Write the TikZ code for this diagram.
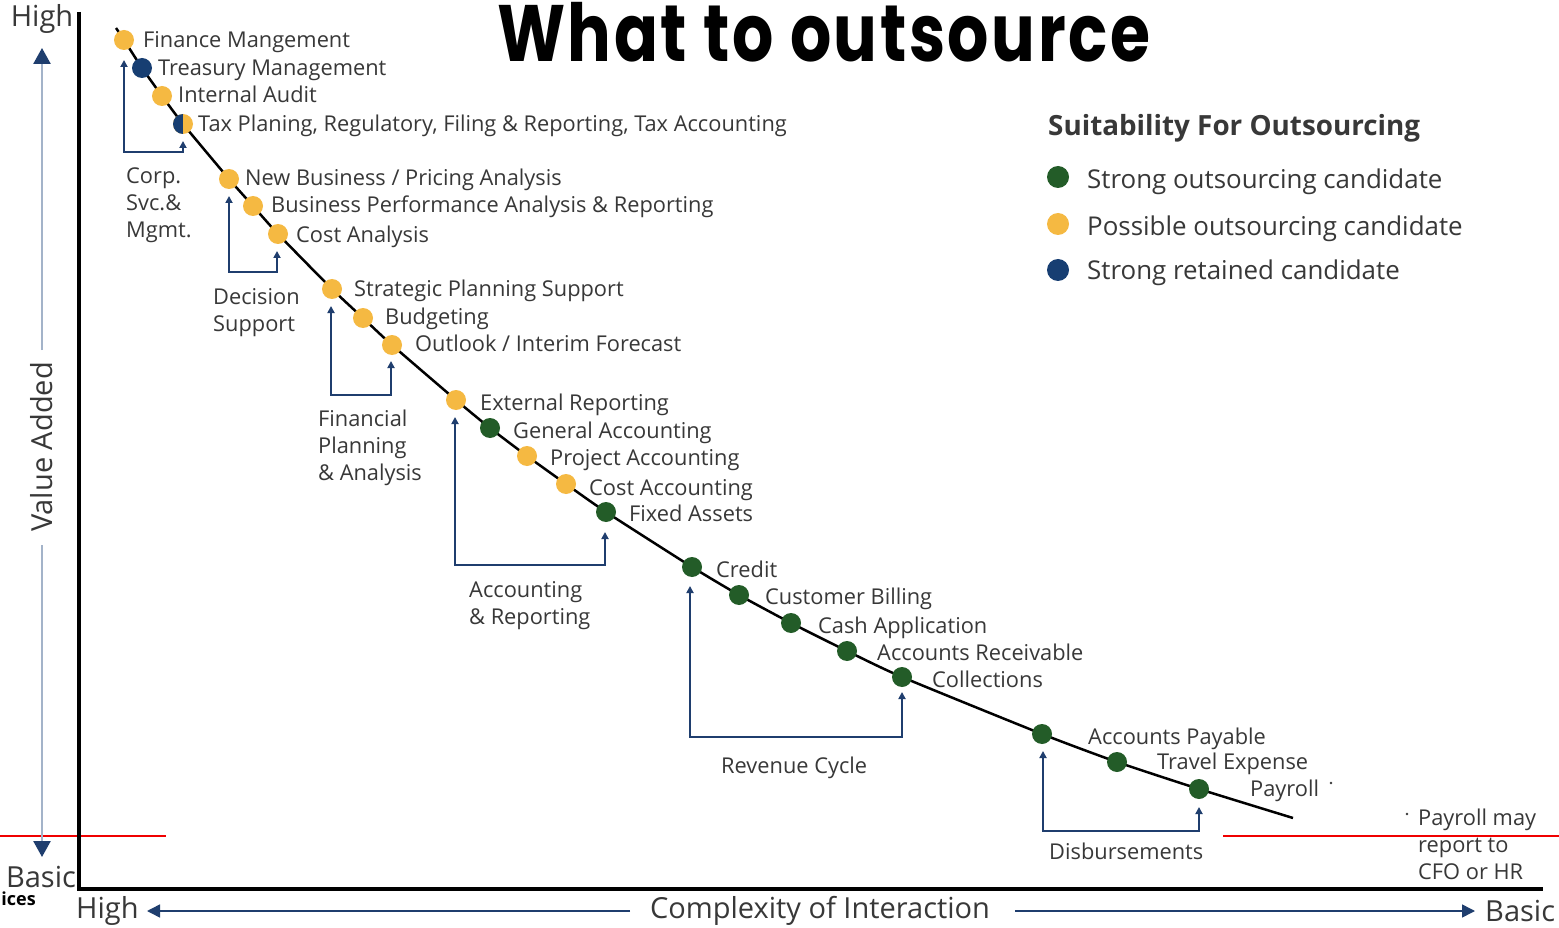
\documentclass[tikz,border=0pt]{standalone}
\usepackage{fontspec}
\usepackage{graphicx}
\setmainfont{Open Sans}
\newfontfamily\titlefont{Poppins}[LetterSpace=4]
\usetikzlibrary{arrows.meta}
\definecolor{yellowc}{HTML}{F5B942}
\definecolor{greenc}{HTML}{235C28}
\definecolor{bluec}{HTML}{173E72}
\definecolor{textc}{HTML}{383838}
\definecolor{brkc}{HTML}{1F3E6E}
\definecolor{axisc}{HTML}{A3B3C9}
\definecolor{redc}{HTML}{F00000}
\begin{document}
\begin{tikzpicture}[x=1pt,y=-1pt,
  lab/.style={anchor=west, inner sep=0pt, text=textc, font=\fontsize{21.8}{27}\selectfont, text height=15.6pt, text depth=0pt},
  grp/.style={anchor=north west, inner sep=0pt, align=left, text=textc, font=\fontsize{21.8}{27}\selectfont},
  leg/.style={anchor=west, inner sep=0pt, text=textc, font=\fontsize{25.9}{30}\selectfont, text height=18.5pt, text depth=0pt},
  dot/.style={circle, inner sep=0pt, minimum size=20pt},
  yd/.style={dot, fill=yellowc}, gd/.style={dot, fill=greenc}, bd/.style={dot, fill=bluec},
  brk/.style={draw=brkc, line width=1.8pt, {Triangle[width=7pt,length=7pt]}-{Triangle[width=7pt,length=7pt]}},
  curve/.style={draw=black, line width=2.5pt},
  btip/.style={-{Triangle[width=13pt,length=13pt]}, draw=brkc, line width=1.5pt},
  vtip/.style={draw=axisc, line width=2.5pt, -{Triangle[width=17pt,length=16pt, color=brkc, fill=brkc]}},
  axlab/.style={inner sep=0pt, text=textc, font=\fontsize{29}{32}\selectfont}
]
\useasboundingbox (0,0) rectangle (1559,928);
\fill[white] (0,0) rectangle (1559,928);

% point coordinates
\coordinate (p0) at (116,28);
\coordinate (p1) at (124,40);
\coordinate (p2) at (142,68);
\coordinate (p3) at (162,96);
\coordinate (p4) at (183,124);
\coordinate (p5) at (229,179);
\coordinate (p6) at (253,206);
\coordinate (p7) at (278,234);
\coordinate (p8) at (332,289);
\coordinate (p9) at (363,318);
\coordinate (p10) at (392,345);
\coordinate (p11) at (456,400);
\coordinate (p12) at (490,428);
\coordinate (p13) at (527,456);
\coordinate (p14) at (566,484);
\coordinate (p15) at (606,512);
\coordinate (p16) at (692,567);
\coordinate (p17) at (739,595);
\coordinate (p18) at (791,623);
\coordinate (p19) at (847,651);
\coordinate (p20) at (902,677);
\coordinate (p21) at (1042,734);
\coordinate (p22) at (1117,762);
\coordinate (p23) at (1199,789);
\coordinate (p24) at (1293,818);

% red lines
\coordinate (r1) at (0,836); \coordinate (r2) at (166,836);
\coordinate (r3) at (1223,836); \coordinate (r4) at (1559,836);
\draw[redc, line width=1.5pt] (r1) -- (r2);
\draw[redc, line width=1.5pt] (r3) -- (r4);

% main axes
\coordinate (o1) at (79,12); \coordinate (o2) at (79,889); \coordinate (o3) at (1543,889);
\draw[line width=4pt, line join=miter] (o1) -- (o2) -- (o3);

% curve
\draw[curve] plot[smooth, tension=0.35] coordinates {(p0) (p1) (p2) (p3) (p4) (p5) (p6) (p7) (p8) (p9) (p10) (p11) (p12) (p13) (p14) (p15) (p16) (p17) (p18) (p19) (p20) (p21) (p22) (p23) (p24)};

% dots
\node[yd] (d1) at (p1) {};
\node[bd] (d2) at (p2) {};
\node[yd] (d3) at (p3) {};
\node[dot, fill=yellowc, path picture={\fill[bluec] (path picture bounding box.south west) rectangle (path picture bounding box.north);}] (d4) at (p4) {};
\node[yd] (d5) at (p5) {};
\node[yd] (d6) at (p6) {};
\node[yd] (d7) at (p7) {};
\node[yd] (d8) at (p8) {};
\node[yd] (d9) at (p9) {};
\node[yd] (d10) at (p10) {};
\node[yd] (d11) at (p11) {};
\node[gd] (d12) at (p12) {};
\node[yd] (d13) at (p13) {};
\node[yd] (d14) at (p14) {};
\node[gd] (d15) at (p15) {};
\node[gd] (d16) at (p16) {};
\node[gd] (d17) at (p17) {};
\node[gd] (d18) at (p18) {};
\node[gd] (d19) at (p19) {};
\node[gd] (d20) at (p20) {};
\node[gd] (d21) at (p21) {};
\node[gd] (d22) at (p22) {};
\node[gd] (d23) at (p23) {};

% labels
\node[lab] (l1) at (143,40) {Finance Mangement};
\node[lab] (l2) at (158,68) {Treasury Management};
\node[lab] (l3) at (178,95) {Internal Audit};
\node[lab] (l4) at (198,124) {Tax Planing, Regulatory, Filing \& Reporting, Tax Accounting};
\node[lab] (l5) at (245,178) {New Business / Pricing Analysis};
\node[lab] (l6) at (271,205) {Business Performance Analysis \& Reporting};
\node[lab] (l7) at (296,235) {Cost Analysis};
\node[lab] (l8) at (354,289) {Strategic Planning Support};
\node[lab] (l9) at (385,317) {Budgeting};
\node[lab] (l10) at (415,344) {Outlook / Interim Forecast};
\node[lab] (l11) at (480,403) {External Reporting};
\node[lab] (l12) at (513,431) {General Accounting};
\node[lab] (l13) at (550,458) {Project Accounting};
\node[lab] (l14) at (589,488) {Cost Accounting};
\node[lab] (l15) at (629,514) {Fixed Assets};
\node[lab] (l16) at (716,570) {Credit};
\node[lab] (l17) at (765,597) {Customer Billing};
\node[lab] (l18) at (818,626) {Cash Application};
\node[lab] (l19) at (877,653) {Accounts Receivable};
\node[lab] (l20) at (932,680) {Collections};
\node[lab] (l21) at (1088,737) {Accounts Payable};
\node[lab] (l22) at (1157,762) {Travel Expense};
\node[lab] (l23) at (1250,789) {Payroll};
\fill[textc] (1331,783) circle (1.3pt);

% group labels
\node[grp] (g1) at (126,168) {Corp.\\Svc.\&\\Mgmt.};
\node[grp] (g2) at (213,288) {Decision\\Support};
\node[grp] (g3) at (318,410) {Financial\\Planning\\\& Analysis};
\node[grp] (g4) at (469,581) {Accounting\\\& Reporting};
\node[grp] (g5) at (721,757) {Revenue Cycle};
\node[grp] (g6) at (1049,843) {Disbursements};
\node[grp] (g7) at (1418,809) {Payroll may\\report to\\CFO or HR};
\fill[textc] (1407,814) circle (1.3pt);

% brackets
\coordinate (a1) at (124,60); \coordinate (a2) at (124,152); \coordinate (a3) at (183,152); \coordinate (a4) at (183,141);
\draw[brk] (a1) -- (a2) -- (a3) -- (a4);
\coordinate (b1) at (229,196); \coordinate (b2) at (229,272); \coordinate (b3) at (277,272); \coordinate (b4) at (277,251);
\draw[brk] (b1) -- (b2) -- (b3) -- (b4);
\coordinate (c1) at (331,306); \coordinate (c2) at (331,395); \coordinate (c3) at (391,395); \coordinate (c4) at (391,361);
\draw[brk] (c1) -- (c2) -- (c3) -- (c4);
\coordinate (e1) at (455,417); \coordinate (e2) at (455,565); \coordinate (e3) at (605,565); \coordinate (e4) at (605,532);
\draw[brk] (e1) -- (e2) -- (e3) -- (e4);
\coordinate (f1) at (690,586); \coordinate (f2) at (690,737); \coordinate (f3) at (902,737); \coordinate (f4) at (902,692);
\draw[brk] (f1) -- (f2) -- (f3) -- (f4);
\coordinate (h1) at (1043,751); \coordinate (h2) at (1043,831); \coordinate (h3) at (1199,831); \coordinate (h4) at (1199,807);
\draw[brk] (h1) -- (h2) -- (h3) -- (h4);

% value added axis
\node[axlab, rotate=90] (va) at (42,447) {Value Added};
\coordinate (v1) at (42,350); \coordinate (v2) at (42,48);
\coordinate (v3) at (42,545); \coordinate (v4) at (42,857);
\draw[vtip] (v1) -- (v2);
\draw[vtip] (v3) -- (v4);
\node[axlab, anchor=center] (hi) at (42,19) {High};
\node[axlab, anchor=center] (ba) at (41,877) {Basic};
\node[inner sep=0pt, anchor=east, font=\fontsize{18}{20}\selectfont\bfseries] (ic) at (36,899) {ices};

% complexity axis
\node[axlab, anchor=west] (hx) at (76,911) {High};
\node[axlab] (cx) at (820,911) {Complexity of Interaction};
\node[axlab, anchor=west] (bx) at (1485,911) {Basic};
\coordinate (x1) at (630,911); \coordinate (x2) at (147,911);
\coordinate (x3) at (1015,911); \coordinate (x4) at (1475,911);
\draw[btip] (x1) -- (x2);
\draw[btip] (x3) -- (x4);

% title
\node[inner sep=0pt, anchor=base west] (title) at (497,62) {\resizebox{653pt}{\height}{\titlefont\bfseries\fontsize{80}{80}\selectfont What to outsource}};

% legend
\node[inner sep=0pt, anchor=west, text=textc, font=\fontsize{27.8}{30}\selectfont\bfseries, text height=20pt, text depth=0pt] (lt) at (1048,126) {Suitability For Outsourcing};
\node[dot, minimum size=22pt, fill=greenc] (k1) at (1058,177) {};
\node[dot, minimum size=22pt, fill=yellowc] (k2) at (1058,224) {};
\node[dot, minimum size=22pt, fill=bluec] (k3) at (1058,270) {};
\node[leg] (t1) at (1087,179) {Strong outsourcing candidate};
\node[leg] (t2) at (1087,226) {Possible outsourcing candidate};
\node[leg] (t3) at (1087,270) {Strong retained candidate};
\end{tikzpicture}
\end{document}
